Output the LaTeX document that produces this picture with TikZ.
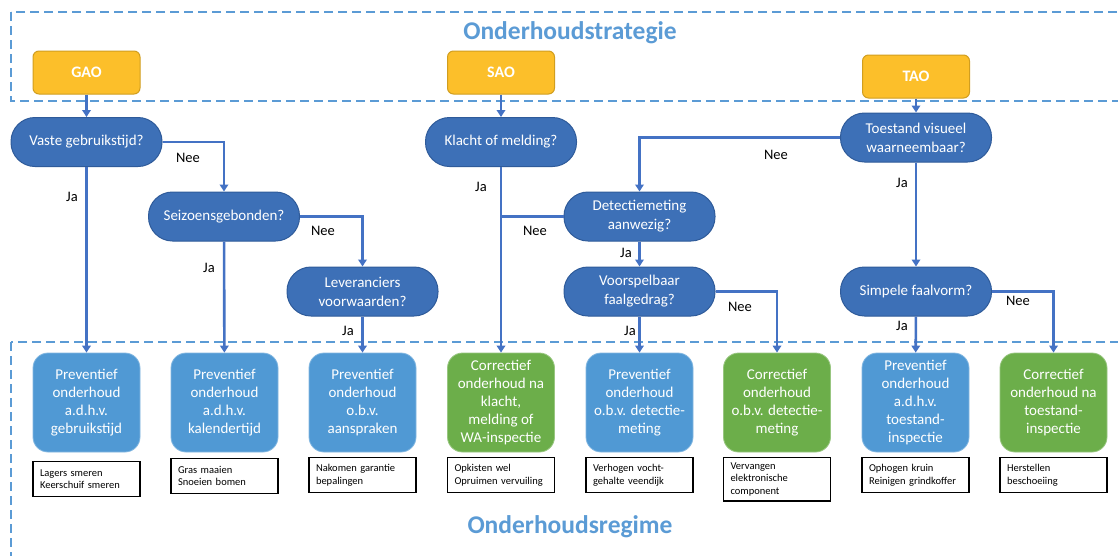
\documentclass[tikz,border=0pt]{standalone}
\usepackage{fontspec}
\setmainfont{Carlito}
\usetikzlibrary{arrows.meta}

\definecolor{linkblue}{HTML}{4472C4}
\definecolor{frameblue}{HTML}{5B9BD5}
\definecolor{titleblue}{HTML}{5B9BD5}
\definecolor{decifill}{HTML}{3D70B7}
\definecolor{deciedge}{HTML}{2F5B9A}
\definecolor{startfill}{HTML}{FCBF2A}
\definecolor{startedge}{HTML}{D19E1F}
\definecolor{prevfill}{HTML}{5099D4}
\definecolor{corrfill}{HTML}{6CAE4A}

\tikzset{
  frame/.style={draw=frameblue, line width=1.4pt, dash pattern=on 9pt off 5pt},
  heading/.style={text=titleblue, font=\fontsize{25.5}{30}\selectfont\bfseries},
  startbox/.style={draw=startedge, fill=startfill, line width=1pt, rounded corners=6pt,
    minimum width=107pt, minimum height=43pt, inner sep=0pt, text=white,
    font=\fontsize{16}{19}\selectfont\bfseries},
  decision/.style={draw=deciedge, fill=decifill, line width=1pt, rounded corners=24pt,
    minimum width=151pt, minimum height=49pt, inner sep=0pt, text=white, align=center,
    font=\fontsize{15}{19}\selectfont},
  regime/.style={rounded corners=15pt, minimum width=107pt, minimum height=99pt,
    inner sep=0pt, text=white, align=center, line width=0.8pt,
    font=\fontsize{15}{18}\selectfont},
  prevbox/.style={regime, fill=prevfill, draw=prevfill!70!white},
  corrbox/.style={regime, fill=corrfill, draw=corrfill!70!white},
  example/.style={draw=black, line width=1.2pt, fill=white, anchor=north,
    text width=93pt, inner xsep=7pt, inner ysep=5pt, minimum height=35pt, align=left,
    font=\fontsize{10.5}{12.5}\selectfont},
  flow/.style={draw=linkblue, line width=2.6pt, -{Triangle[length=7pt,width=8.5pt]}},
  flowline/.style={draw=linkblue, line width=2.6pt},
  answer/.style={text=black, font=\fontsize{14.5}{17}\selectfont},
}

\begin{document}
\begin{tikzpicture}[x=1pt,y=-1pt]
  \useasboundingbox (0,0) rectangle (1118,555);
  \clip (0,0) rectangle (1118,555);
  \fill[white] (0,0) rectangle (1118,555);

  % dashed frames of the two levels
  \draw[frame] (11,12) rectangle (1140,101);
  \draw[frame] (11,342) rectangle (1140,600);
  \node[heading] (tStrategy) at (570,33) {Onderhoudstrategie};
  \node[heading] (tRegime) at (570,527) {Onderhoudsregime};

  % strategies
  \node[startbox] (gao) at (86.5,72.5) {GAO};
  \node[startbox] (sao) at (501,72.5) {SAO};
  \node[startbox] (tao) at (916,76.5) {TAO};

  % decisions
  \node[decision] (qUse) at (86.5,142) {Vaste gebruikstijd?};
  \node[decision] (qSeason) at (224,216.5) {Seizoensgebonden?};
  \node[decision] (qSupplier) at (362.5,291.5) {Leveranciers\\voorwaarden?};
  \node[decision] (qComplaint) at (501,142) {Klacht of melding?};
  \node[decision] (qDetect) at (639.5,216.5) {Detectiemeting\\aanwezig?};
  \node[decision] (qPredict) at (639.5,291.5) {Voorspelbaar\\faalgedrag?};
  \node[decision] (qVisual) at (916,137.5) {Toestand visueel\\waarneembaar?};
  \node[decision] (qSimple) at (916,291.5) {Simpele faalvorm?};

  % maintenance regimes
  \node[prevbox] (rUse) at (86.5,402.5) {Preventief\\onderhoud\\a.d.h.v.\\gebruikstijd};
  \node[prevbox] (rCal) at (224.5,402.5) {Preventief\\onderhoud\\a.d.h.v.\\kalendertijd};
  \node[prevbox] (rClaim) at (362.5,402.5) {Preventief\\onderhoud\\o.b.v.\\aanspraken};
  \node[corrbox] (rComplaint) at (501,402.5) {Correctief\\onderhoud na\\klacht,\\melding of\\WA-inspectie};
  \node[prevbox] (rDetPrev) at (639.5,402.5) {Preventief\\onderhoud\\o.b.v. detectie-\\meting};
  \node[corrbox] (rDetCorr) at (777,402.5) {Correctief\\onderhoud\\o.b.v. detectie-\\meting};
  \node[prevbox] (rVisPrev) at (915.5,402.5) {Preventief\\onderhoud\\a.d.h.v.\\toestand-\\inspectie};
  \node[corrbox] (rVisCorr) at (1053.5,402.5) {Correctief\\onderhoud na\\toestand-\\inspectie};

  % examples
  \node[example] (eUse) at (86.5,461) {Lagers smeren\\Keerschuif smeren};
  \node[example] (eCal) at (224.5,458) {Gras maaien\\Snoeien bomen};
  \node[example] (eClaim) at (362.5,457) {Nakomen garantie\\bepalingen};
  \node[example] (eComplaint) at (501,457) {Opkisten wel\\Opruimen vervuiling};
  \node[example] (eDetPrev) at (639.5,457) {Verhogen vocht-\\gehalte veendijk};
  \node[example] (eDetCorr) at (777,457) {Vervangen\\elektronische\\component};
  \node[example] (eVisPrev) at (915.5,457) {Ophogen kruin\\Reinigen grindkoffer};
  \node[example] (eVisCorr) at (1053.5,457) {Herstellen\\beschoeiing};

  % connectors
  \draw[flow] (gao) -- (qUse);
  \draw[flow] (sao) -- (qComplaint);
  \draw[flow] (tao) -- (qVisual);

  \draw[flow] (qUse) -- (rUse);
  \draw[flow] (qUse.east) -| (qSeason.north);
  \draw[flow] (qSeason) -- (rCal);
  \draw[flow] (qSeason.east) -| (qSupplier.north);
  \draw[flow] (qSupplier) -- (rClaim);

  \draw[flow] (qComplaint) -- (rComplaint);
  \coordinate (join) at (qDetect.west -| qComplaint.south);
  \draw[flowline] (qDetect.west) -- (join);
  \draw[flow] (qVisual.west) -| (qDetect.north);
  \draw[flow] (qDetect) -- (qPredict);
  \draw[flow] (qPredict) -- (rDetPrev);
  \draw[flow] (qPredict.east) -| (rDetCorr.north);

  \draw[flow] (qVisual) -- (qSimple);
  \draw[flow] (qSimple) -- (rVisPrev);
  \draw[flow] (qSimple.east) -| (rVisCorr.north);

  % answers
  \node[answer] (aUseNo) at (188,158) {Nee};
  \node[answer] (aUseYes) at (72,197) {Ja};
  \node[answer] (aSeasonNo) at (323,231) {Nee};
  \node[answer] (aSeasonYes) at (209,268) {Ja};
  \node[answer] (aSupplierYes) at (348,331) {Ja};
  \node[answer] (aComplaintYes) at (481,187) {Ja};
  \node[answer] (aDetectNo) at (535,231) {Nee};
  \node[answer] (aVisualNo) at (776,155) {Nee};
  \node[answer] (aVisualYes) at (902,183) {Ja};
  \node[answer] (aDetectYes) at (626,253) {Ja};
  \node[answer] (aPredictYes) at (630,331) {Ja};
  \node[answer] (aPredictNo) at (740,307) {Nee};
  \node[answer] (aSimpleYes) at (902,326) {Ja};
  \node[answer] (aSimpleNo) at (1018,301) {Nee};
\end{tikzpicture}
\end{document}
